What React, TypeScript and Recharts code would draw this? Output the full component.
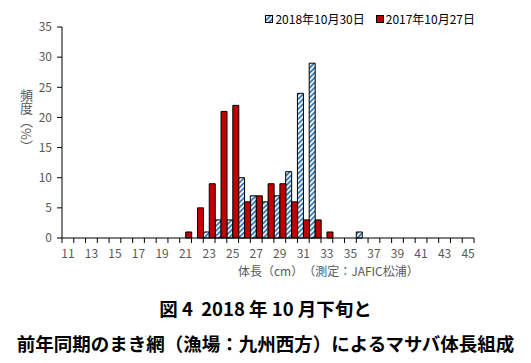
import { Bar, BarChart, Legend, XAxis, YAxis } from "recharts";

const LENGTHS = Array.from({ length: 35 }, (_, i) => i + 11);
// frequency (%) by body length (cm), 11..45
const FREQ_2018 = [
  0, 0, 0, 0, 0, 0, 0, 0, 0, 0, 0, 0, 1, 3, 3, 10, 7, 6, 7, 11, 24, 29, 0, 0, 0, 1,
  0, 0, 0, 0, 0, 0, 0, 0, 0,
];
const FREQ_2017 = [
  0, 0, 0, 0, 0, 0, 0, 0, 0, 0, 1, 5, 9, 21, 22, 6, 7, 9, 9, 6, 3, 3, 1, 0, 0, 0,
  0, 0, 0, 0, 0, 0, 0, 0, 0,
];
const Y_TICKS = [0, 5, 10, 15, 20, 25, 30, 35];

const SERIES = [
  { key: "y2018", name: "2018年10月30日", fill: "url(#hatch)" },
  { key: "y2017", name: "2017年10月27日", fill: "#c00000" },
];

const rows = LENGTHS.map((len, i) => ({
  len,
  y2018: FREQ_2018[i],
  y2017: FREQ_2017[i],
}));

const FONT = '"Noto Sans CJK JP", "Noto Sans", sans-serif';
const GRAY = "#595959";
const PLOT_W = 412;

function LengthTick(props: any) {
  const { x, y, payload, index } = props;
  const half = payload?.offset ? payload.offset : PLOT_W / LENGTHS.length / 2;
  const last = index === LENGTHS.length - 1;
  const showLabel = payload.value % 2 === 1;
  return (
    <g>
      <line x1={x - half} x2={x - half} y1={y} y2={y + 5} stroke="#000" />
      {last && <line x1={x + half} x2={x + half} y1={y} y2={y + 5} stroke="#000" />}
      {showLabel && (
        <text
          x={x}
          y={y + 20}
          textAnchor="middle"
          fill={GRAY}
          fontSize={12}
          fontFamily={FONT}
        >
          {payload.value}
        </text>
      )}
    </g>
  );
}

function LegendBox() {
  return (
    <div
      style={{
        display: "flex",
        gap: 11,
        fontSize: 12,
        lineHeight: "15px",
        fontFamily: FONT,
        color: "#000",
        alignItems: "center",
      }}
    >
      {SERIES.map((s) => (
        <span key={s.key} style={{ display: "flex", alignItems: "center", gap: 2 }}>
          <svg width={8} height={8}>
            <defs>
              <pattern
                id={"lg-" + s.key}
                width={3.5}
                height={3.5}
                patternUnits="userSpaceOnUse"
                patternTransform="rotate(45)"
              >
                <rect width={3.5} height={3.5} fill="#fff" />
                <line x1={1} x2={1} y1={0} y2={3.5} stroke="#2e75b6" strokeWidth={1.8} />
              </pattern>
            </defs>
            <rect
              x={0.5}
              y={0.5}
              width={7}
              height={7}
              fill={s.key === "y2018" ? "url(#lg-y2018)" : s.fill}
              stroke="#000"
            />
          </svg>
          {s.name}
        </span>
      ))}
    </div>
  );
}

export default function App() {
  return (
    <div
      style={{
        position: "absolute",
        left: 0,
        top: 0,
        width: 531,
        height: 363,
        background: "#fff",
        fontFamily: FONT,
      }}
    >
      <BarChart
        width={531}
        height={280}
        data={rows}
        margin={{ top: 12, right: 57, left: 0, bottom: 12 }}
        barCategoryGap={0}
        barGap={0}
      >
        <defs>
          <pattern
            id="hatch"
            width={3.5}
            height={3.5}
            patternUnits="userSpaceOnUse"
            patternTransform="rotate(45)"
          >
            <rect width={3.5} height={3.5} fill="#fff" />
            <line x1={1} x2={1} y1={0} y2={3.5} stroke="#2e75b6" strokeWidth={1.8} />
          </pattern>
        </defs>
        <XAxis
          dataKey="len"
          interval={0}
          height={30}
          tickLine={false}
          tickSize={0}
          tickMargin={0}
          axisLine={{ stroke: "#000" }}
          tick={<LengthTick />}
        />
        <YAxis
          width={62}
          domain={[0, 35]}
          ticks={Y_TICKS}
          interval={0}
          tickSize={5}
          tickMargin={5}
          axisLine={{ stroke: "#000" }}
          tickLine={{ stroke: "#000" }}
          tick={{ fill: GRAY, fontSize: 12, fontFamily: FONT }}
        />
        <Legend
          verticalAlign="top"
          align="right"
          content={<LegendBox />}
          wrapperStyle={{ top: 11, right: 56, left: "auto", width: "auto" }}
        />
        {SERIES.map((s) => (
          <Bar
            key={s.key}
            dataKey={s.key}
            name={s.name}
            fill={s.fill}
            stroke="#000"
            strokeWidth={1}
            isAnimationActive={false}
          />
        ))}
      </BarChart>
      <div
        style={{
          position: "absolute",
          left: 20,
          top: 89,
          writingMode: "vertical-rl",
          fontSize: 13,
          color: GRAY,
          lineHeight: 1,
        }}
      >
        頻度（%）
      </div>
      <div
        style={{
          position: "absolute",
          left: 238,
          top: 264,
          fontSize: 12,
          color: GRAY,
          whiteSpace: "nowrap",
          lineHeight: "14px",
        }}
      >
        体長（cm）　（測定：JAFIC松浦）
      </div>
      <div
        style={{
          position: "absolute",
          left: 0,
          width: 531,
          top: 296,
          textAlign: "center",
          fontSize: 18.5,
          fontWeight: 700,
          color: "#000",
          lineHeight: "24px",
          whiteSpace: "pre",
        }}
      >
        {"図 4  2018 年 10 月下旬と"}
      </div>
      <div
        style={{
          position: "absolute",
          left: 0,
          width: 531,
          top: 331,
          textAlign: "center",
          fontSize: 18.5,
          fontWeight: 700,
          color: "#000",
          lineHeight: "24px",
          whiteSpace: "nowrap",
        }}
      >
        前年同期のまき網（漁場：九州西方）によるマサバ体長組成
      </div>
    </div>
  );
}
